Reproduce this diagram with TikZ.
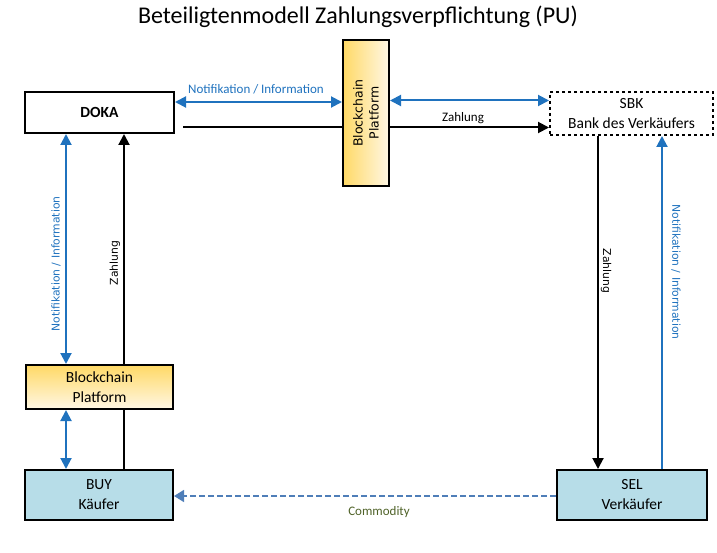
\documentclass[tikz,border=0pt]{standalone}
\usepackage{fontspec}
\setmainfont{Carlito}
\newfontfamily\vfont{DejaVu Sans}
\usetikzlibrary{arrows.meta}
\definecolor{arrblue}{HTML}{1F72BE}
\definecolor{boxblue}{HTML}{B7DDE8}
\definecolor{bcdark}{HTML}{FFD966}
\definecolor{bclight}{HTML}{FFF7E4}
\definecolor{comblue}{HTML}{4F7EB8}
\definecolor{comgreen}{HTML}{4F6228}
\begin{document}
\begin{tikzpicture}[x=1pt, y=-1pt,
    box/.style={draw, line width=2pt, align=center, inner sep=0pt, font=\fontsize{15.5}{20}\selectfont},
    bc/.style={box, top color=bcdark, bottom color=bclight},
    tip/.style={-{Triangle[width=11pt,length=11pt]}},
    dtip/.style={{Triangle[width=11pt,length=11pt]}-{Triangle[width=11pt,length=11pt]}},
    blk/.style={line width=2pt, black},
    blu/.style={line width=2pt, arrblue},
    lbl/.style={font=\fontsize{13}{15}\selectfont, inner sep=1pt},
    vlbl/.style={font=\vfont\fontsize{10.8}{13}\selectfont, inner sep=1pt}]
    \useasboundingbox (0,0) rectangle (717,553);
    \node (title) at (358,17) {\fontsize{24}{28}\selectfont Beteiligtenmodell Zahlungsverpflichtung (PU)};
    % nodes
    \node[box, minimum width=149pt, minimum height=41pt, font=\fontsize{15.5}{20}\selectfont\bfseries] (doka) at (99.5,112.5) {DOKA};
    \node[box, left color=bcdark, right color=bclight, minimum width=146pt, minimum height=46pt, rotate=90,
          font=\vfont\fontsize{12.5}{16}\selectfont] (bctop) at (366,113) {Blockchain\\Platform};
    \node[box, dashed, minimum width=163pt, minimum height=43pt] (sbk) at (631.5,113.5) {SBK\\Bank des Verkäufers};
    \node[bc, minimum width=147pt, minimum height=44pt] (bclow) at (99.5,387) {Blockchain\\Platform};
    \node[box, fill=boxblue, minimum width=148pt, minimum height=50pt] (buy) at (99,495) {BUY\\Käufer};
    \node[box, fill=boxblue, minimum width=150pt, minimum height=50pt] (sel) at (632,495) {SEL\\Verkäufer};
    % top row
    \draw[blu, dtip] ([yshift=10.5pt]doka.east) -- ([yshift=10.5pt]doka.east -| bctop.north);
    \draw[blu, dtip] ([yshift=13pt]sbk.west -| bctop.south) -- ([yshift=13pt]sbk.west);
    \draw[blk] ([xshift=8pt,yshift=-14.5pt]doka.east) -- ([yshift=-14.5pt]doka.east -| bctop.north);
    \draw[blk, tip] ([yshift=-14pt]sbk.west -| bctop.south) -- ([yshift=-14pt]sbk.west);
    % left column
    \draw[blu, dtip] ([xshift=-33.5pt]doka.south) -- ([xshift=-33.5pt]doka.south |- bclow.north);
    \draw[blu, dtip] ([xshift=-33pt]buy.north |- bclow.south) -- ([xshift=-33pt]buy.north);
    \draw[blk, tip] ([xshift=25pt]buy.north |- bclow.north) -- ([xshift=25pt]buy.north |- doka.south);
    \draw[blk] ([xshift=25pt]buy.north) -- ([xshift=25pt]buy.north |- bclow.south);
    % right column
    \draw[blk, tip] ([xshift=-33.5pt]sbk.south) -- ([xshift=-33.5pt]sbk.south |- sel.north);
    \draw[blu, tip] ([xshift=30pt]sel.north) -- ([xshift=30pt]sel.north |- sbk.south);
    % commodity
    \draw[comblue, line width=1.5pt, dash pattern=on 6pt off 3pt, -{Triangle[width=12pt,length=10pt]}] ([yshift=-1pt]sel.west) -- ([yshift=-1pt]buy.east);
    % labels
    \node[lbl, text=arrblue] (ntop) at (256,89) {Notifikation / Information};
    \node[lbl] (ztop) at (463,118) {Zahlung};
    \node[lbl, text=comgreen] (com) at (379,512) {Commodity};
    \node[vlbl, text=arrblue, rotate=90] (nleft) at (56,264) {Notifikation / Information};
    \node[vlbl, rotate=90] (zleft) at (115,263) {Zahlung};
    \node[vlbl, rotate=-90] (zright) at (606,271) {Zahlung};
    \node[vlbl, text=arrblue, rotate=-90] (nright) at (676,272) {Notifikation / Information};
\end{tikzpicture}
\end{document}
